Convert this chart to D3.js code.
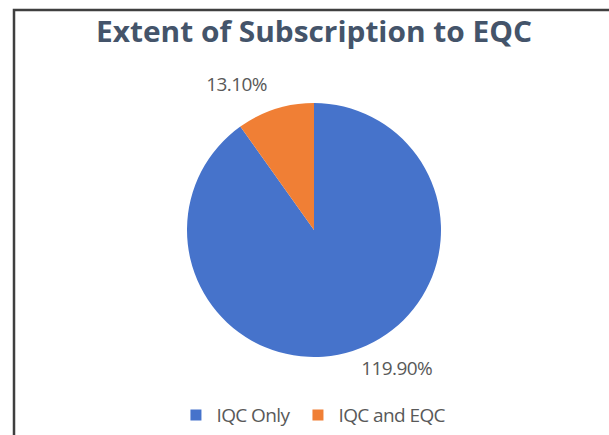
<!DOCTYPE html>
<html>
<head>
<meta charset="utf-8">
<script src="https://cdn.jsdelivr.net/npm/d3@7/dist/d3.min.js"></script>
<style>
  html, body { margin: 0; padding: 0; background: #fff; }
  svg { display: block; }
</style>
</head>
<body>
<svg id="chart"></svg>
<script>
const categories = ["IQC Only", "IQC and EQC"]
const values = [119.90, 13.10]
const value_labels = ["119.90%", "13.10%"]
const couleurs = ["#4673CB", "#F07F35"]

const width = 609, height = 435
const svg = d3.select("#chart").attr("width", width).attr("height", height)

// cadre (bord haut et gauche visibles)
svg.append("rect")
    .attr("x", 0).attr("y", 0).attr("width", width).attr("height", height)
    .attr("fill", "#fff")
svg.append("path")
    .attr("d", `M14,${height} L14,10 L${width},10`)
    .attr("fill", "none")
    .attr("stroke", "#3f3f3f")
    .attr("stroke-width", 2.5)

svg.append("text")
    .attr("x", 314)
    .attr("y", 42)
    .attr("text-anchor", "middle")
    .attr("fill", "#44546A")
    .style("font", "bold 29px 'Open Sans', sans-serif")
    .attr("textLength", 436)
    .attr("lengthAdjust", "spacingAndGlyphs")
    .text("Extent of Subscription to EQC")

const cx = 314, cy = 230, radius = 127

const pie = d3.pie().sort(null).value(d => d.value)
const data = categories.map((c, i) => ({category: c, value: values[i], label: value_labels[i], color: couleurs[i]}))
const arcs = pie(data)

const arc = d3.arc().innerRadius(0).outerRadius(radius)
const labelArc = d3.arc().innerRadius(155).outerRadius(155)

const g = svg.append("g").attr("transform", `translate(${cx},${cy})`)

g.selectAll("path.slice")
    .data(arcs)
    .join("path")
    .attr("class", "slice")
    .attr("d", arc)
    .attr("fill", d => d.data.color)

g.selectAll("text.lbl")
    .data(arcs)
    .join("text")
    .attr("class", "lbl")
    .attr("transform", d => {
        const [x, y] = labelArc.centroid(d)
        return `translate(${x},${y})`
    })
    .attr("dy", d => labelArc.centroid(d)[1] > 0 ? "-0.15em" : "0.45em")
    .attr("text-anchor", d => labelArc.centroid(d)[0] > 0 ? "start" : "end")
    .attr("fill", "#595959")
    .style("font", "19px 'Open Sans', sans-serif")
    .style("letter-spacing", "-0.6px")
    .text(d => d.data.label)

// Légende
const legend = svg.append("g").attr("transform", "translate(0,415)")
const items = legend.selectAll("g.item")
    .data(data)
    .join("g")
    .attr("class", "item")

items.append("rect")
    .attr("y", -5.5).attr("width", 11).attr("height", 11)
    .attr("fill", d => d.color)
items.append("text")
    .attr("x", 26)
    .attr("dy", "0.35em")
    .attr("fill", "#595959")
    .style("font", "19px 'Open Sans', sans-serif")
    .style("letter-spacing", "-0.6px")
    .text(d => d.category)

let xpos = 0
const positions = []
items.each(function() {
    positions.push(xpos)
    xpos += this.getBBox().width + 22
})
const total = xpos - 22
const start = 318 - total / 2
items.attr("transform", (d, i) => `translate(${start + positions[i]},0)`)
</script>
</body>
</html>
